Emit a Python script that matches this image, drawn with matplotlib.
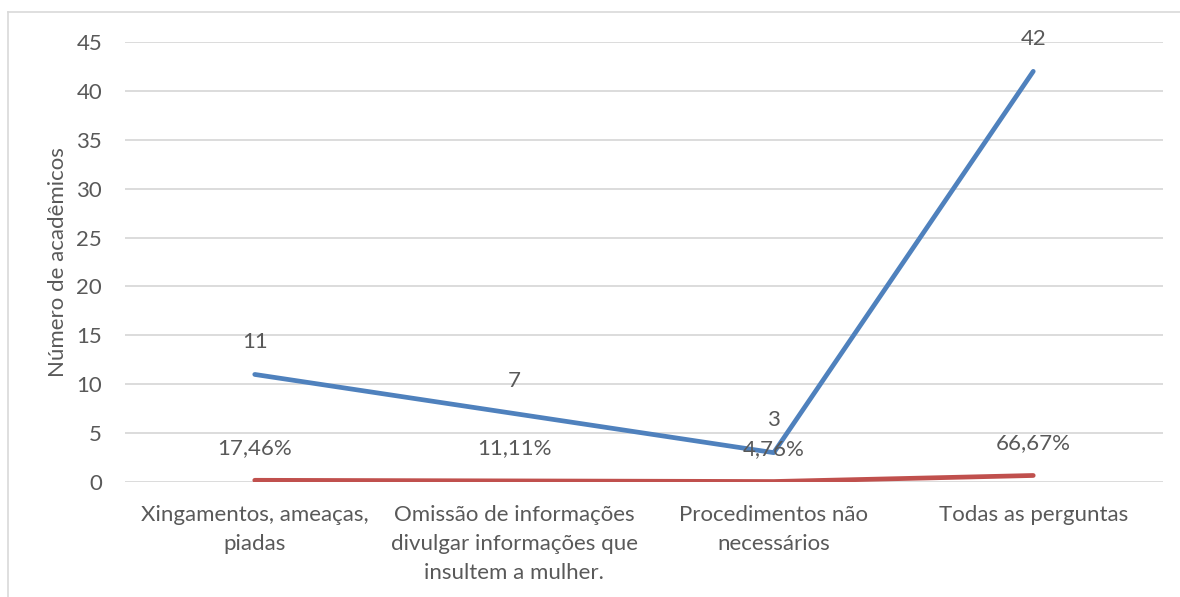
import matplotlib
matplotlib.use("Agg")
import matplotlib.pyplot as plt
from matplotlib.lines import Line2D

categories = ["Xingamentos, ameaças,\npiadas",
              "Omissão de informações\ndivulgar informações que\ninsultem a mulher.",
              "Procedimentos não\nnecessários",
              "Todas as perguntas"]
counts = [11, 7, 3, 42]
shares = [0.1746, 0.1111, 0.0476, 0.6667]
share_labels = ["17,46%", "11,11%", "4,76%", "66,67%"]
yticks = [0, 5, 10, 15, 20, 25, 30, 35, 40, 45]

plt.rcParams['font.family'] = ['Lato', 'DejaVu Sans']
txt = '#595959'
fs = 16

fig = plt.figure(figsize=(11.8, 5.97), dpi=100)
W, H = 1180, 597
ax = fig.add_axes([125 / W, 1 - 482 / H, (1163 - 125) / W, (482 - 42) / H])

x = list(range(len(categories)))
ax.plot(x, counts, color='#4F81BD', lw=3.4, solid_capstyle='round', zorder=3)
ax.plot(x, shares, color='#C0504D', lw=3.4, solid_capstyle='round', zorder=3)

for xi, v in zip(x, counts):
    ax.annotate(str(v), (xi, v), xytext=(0, 23.5), textcoords='offset points',
                ha='center', va='center', fontsize=fs, color=txt, zorder=4)
for xi, v, lab in zip(x, shares, share_labels):
    ax.annotate(lab, (xi, v), xytext=(0, 23.5), textcoords='offset points',
                ha='center', va='center', fontsize=fs, color=txt, zorder=4)

ax.set_xlim(-0.5, len(categories) - 0.5)
ax.set_ylim(0, 45)
ax.set_yticks(yticks)
ax.set_yticklabels([str(t) for t in yticks], fontsize=fs, color=txt)
ax.set_xticks(x)
ax.set_xticklabels(categories, fontsize=fs, color=txt, linespacing=1.58)
ax.tick_params(axis='both', length=0)
ax.tick_params(axis='y', pad=16.5)
ax.tick_params(axis='x', pad=16.5)
ax.grid(axis='y', color='#D9D9D9', lw=1.3)
ax.set_axisbelow(True)
for s in ax.spines.values():
    s.set_visible(False)
fig.text(58 / W, 1 - 262 / H, "Número de acadêmicos", rotation=90,
         ha='center', va='center', fontsize=fs, color=txt)

# chart border (top and left visible)
fig.add_artist(Line2D([8 / W, 1], [1 - 12 / H, 1 - 12 / H], color='#D9D9D9', lw=1.2,
                      transform=fig.transFigure))
fig.add_artist(Line2D([8 / W, 8 / W], [1 - 12 / H, 0], color='#D9D9D9', lw=1.2,
                      transform=fig.transFigure))

fig.savefig("out.png", dpi=100, facecolor='white')
